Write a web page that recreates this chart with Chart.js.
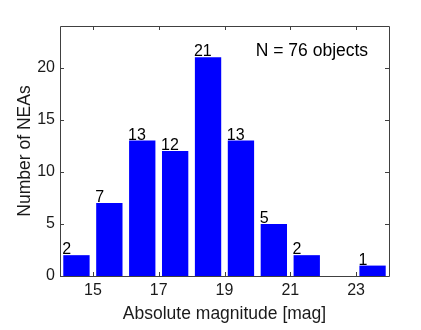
<!DOCTYPE html>
<html>
<head>
<meta charset="utf-8">
<script src="https://cdn.jsdelivr.net/npm/chart.js@4/dist/chart.umd.min.js"></script>
<style>
  html, body { margin: 0; padding: 0; background: #fff; }
  canvas { display: block; }
</style>
</head>
<body>
<canvas id="magChart" width="421" height="330"></canvas>
<script>
// histogram bins: centre of each 1-mag bin and number of NEAs in it
const binCenters = [14.5, 15.5, 16.5, 17.5, 18.5, 19.5, 20.5, 21.5, 22.5, 23.5];
const counts = [2, 7, 13, 12, 21, 13, 5, 2, 0, 1];
const xTicks = [15, 17, 19, 21, 23];
const yTicks = [0, 5, 10, 15, 20];

const total = counts.reduce((a, b) => a + b, 0);
const FONT = "'Liberation Sans', Arial, Helvetica, sans-serif";
const lineColor = "#404040";
const textColor = "#1a1a1a";

// box around the axes with inward ticks on all four sides
const framePlugin = {
  id: "frame",
  afterDraw(chart) {
    const { ctx, chartArea: a, scales } = chart;
    const len = 4;
    ctx.save();
    ctx.strokeStyle = lineColor;
    ctx.lineWidth = 1;
    ctx.beginPath();
    ctx.rect(a.left + 0.5, a.top + 0.5, a.right - a.left, a.bottom - a.top);
    xTicks.forEach((v) => {
      const px = Math.round(scales.x.getPixelForValue(v)) + 0.5;
      ctx.moveTo(px, a.bottom);
      ctx.lineTo(px, a.bottom - len);
      ctx.moveTo(px, a.top);
      ctx.lineTo(px, a.top + len);
    });
    yTicks.forEach((v) => {
      const py = Math.round(scales.y.getPixelForValue(v)) + 0.5;
      ctx.moveTo(a.left, py);
      ctx.lineTo(a.left + len, py);
      ctx.moveTo(a.right, py);
      ctx.lineTo(a.right - len, py);
    });
    ctx.stroke();

    // sample size note in the upper right
    ctx.fillStyle = "#000";
    ctx.font = "17.5px " + FONT;
    ctx.textAlign = "left";
    ctx.textBaseline = "alphabetic";
    ctx.fillText("N = " + total + " objects",
      scales.x.getPixelForValue(19.95), scales.y.getPixelForValue(21.1));
    ctx.restore();
  },
};

// count written above each non-empty bar, flush with its left edge
const countLabels = {
  id: "countLabels",
  afterDatasetsDraw(chart) {
    const { ctx } = chart;
    const meta = chart.getDatasetMeta(0);
    ctx.save();
    ctx.fillStyle = "#000";
    ctx.font = "16px " + FONT;
    ctx.textAlign = "left";
    ctx.textBaseline = "alphabetic";
    meta.data.forEach((bar, i) => {
      if (!counts[i]) return;
      ctx.fillText(String(counts[i]), bar.x - bar.width / 2 - 1, bar.y - 1);
    });
    ctx.restore();
  },
};

new Chart(document.getElementById("magChart"), {
  type: "bar",
  data: {
    datasets: [
      {
        data: binCenters.map((x, i) => ({ x: x, y: counts[i] })),
        backgroundColor: "#0000ff",
        borderWidth: 0,
        categoryPercentage: 1,
        barPercentage: 0.8,
      },
    ],
  },
  options: {
    responsive: false,
    animation: false,
    layout: { padding: { top: 26, right: 32, left: 0, bottom: 0 } },
    plugins: {
      legend: { display: false },
      tooltip: { enabled: false },
    },
    scales: {
      x: {
        type: "linear",
        min: 14,
        max: 24,
        offset: false,
        grid: { display: false, drawTicks: false },
        border: { display: false },
        afterBuildTicks(scale) {
          scale.ticks = xTicks.map((v) => ({ value: v }));
        },
        afterFit(scale) {
          scale.height = 54;
        },
        ticks: {
          padding: 5,
          maxRotation: 0,
          color: textColor,
          font: { family: FONT, size: 16 },
        },
        title: {
          display: true,
          text: "Absolute magnitude [mag]",
          color: textColor,
          padding: 5,
          font: { family: FONT, size: 17.5 },
        },
      },
      y: {
        min: 0,
        max: 24,
        grid: { display: false, drawTicks: false },
        border: { display: false },
        afterBuildTicks(scale) {
          scale.ticks = yTicks.map((v) => ({ value: v }));
        },
        afterFit(scale) {
          scale.width = 60;
        },
        ticks: {
          padding: 5,
          color: textColor,
          font: { family: FONT, size: 16 },
        },
        title: {
          display: true,
          text: "Number of NEAs",
          color: textColor,
          padding: 14.5,
          font: { family: FONT, size: 17.5 },
        },
      },
    },
  },
  plugins: [countLabels, framePlugin],
});
</script>
</body>
</html>
